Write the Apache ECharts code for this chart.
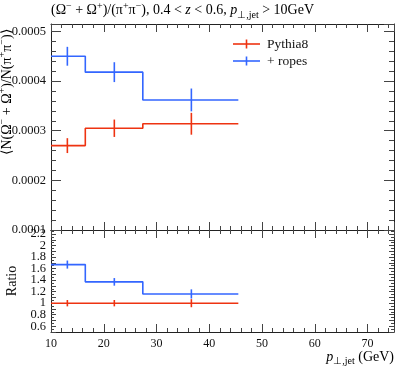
<!DOCTYPE html>
<html><head><meta charset="utf-8">
<script src="https://cdn.jsdelivr.net/npm/echarts@6/dist/echarts.min.js"></script>
<style>html,body{margin:0;padding:0;background:#fff}#c{width:407px;height:367px}</style>
</head><body><div id="c"></div>
<script>
// ---- data ----
const binEdges = [10, 16.5, 27.4, 45.5];
const binCenters = [13.1, 22.0, 36.6];
const pythiaVals = [0.000270, 0.000305, 0.000314];
const pythiaErrs = [0.000015, 0.0000175, 0.000022];
const ropesVals = [0.000450, 0.000418, 0.000362];
const ropesErrs = [0.000019, 0.000020, 0.000023];
const pythiaRatio = [1.0, 1.0, 1.0];
const pythiaRatioErrs = [0.055, 0.055, 0.07];
const ropesRatio = [1.67, 1.37, 1.16];
const ropesRatioErrs = [0.07, 0.066, 0.08];
const xTickLabels = [10, 20, 30, 40, 50, 60, 70];
const mainYTickLabels = [0.0001, 0.0002, 0.0003, 0.0004, 0.0005];
const ratioYTickLabels = [0.6, 0.8, 1, 1.2, 1.4, 1.6, 1.8, 2, 2.2];
const seriesNames = ['Pythia8', '+ ropes'];

const RED = '#EE3311', BLUE = '#3366FF';
const FONT = 'Liberation Serif';
const LW = 1.6;

function stepData(vals) {
  const pts = vals.map((v, i) => [binEdges[i], v]);
  pts.push([binEdges[vals.length], vals[vals.length - 1]]);
  return pts;
}
function errData(vals, errs) {
  return vals.map((v, i) => [binCenters[i], v, errs[i]]);
}
function errRender(params, api) {
  const x = api.value(0), y = api.value(1), e = api.value(2);
  const p1 = api.coord([x, y - e]), p2 = api.coord([x, y + e]);
  return { type: 'line', shape: { x1: p1[0], y1: p1[1], x2: p2[0], y2: p2[1] },
    style: { stroke: api.visual('color'), lineWidth: LW } };
}
function matchTick(list, v, eps) {
  for (const t of list) if (Math.abs(t - v) < eps) return t;
  return null;
}

const axisLine = { show: true, lineStyle: { color: '#222', width: 1 } };
function xAx(grid, pos, showLabel) {
  return {
    type: 'value', gridIndex: grid, position: pos, min: 10, max: 75, interval: 10,
    axisLine, splitLine: { show: false },
    axisTick: { show: true, inside: true, length: 8, lineStyle: { color: '#444' } },
    minorTick: { show: true, splitNumber: 5, length: 4, lineStyle: { color: '#444' } },
    axisLabel: showLabel ? {
      show: true, margin: 6, fontFamily: FONT, fontSize: 12, color: '#111',
      formatter: v => { const t = matchTick(xTickLabels, v, 1e-6); return t === null ? '' : String(t); }
    } : { show: false }
  };
}
function yMain(pos, showLabel) {
  return {
    type: 'value', gridIndex: 0, position: pos, min: 0.0001, max: 0.000515, interval: 0.0001,
    axisLine, splitLine: { show: false },
    axisTick: { show: true, inside: true, length: 10, lineStyle: { color: '#444' } },
    minorTick: { show: true, splitNumber: 5, length: 5, lineStyle: { color: '#444' } },
    axisLabel: showLabel ? {
      show: true, margin: 5, fontFamily: FONT, fontSize: 12.5, color: '#111',
      formatter: v => { const t = matchTick(mainYTickLabels, v, 1e-9); return t === null ? '' : t.toFixed(4); }
    } : { show: false }
  };
}
function yRatio(pos, showLabel) {
  return {
    type: 'value', gridIndex: 1, position: pos, min: 0.5, max: 2.27, interval: 0.1,
    axisLine, splitLine: { show: false },
    axisTick: { show: true, inside: true, length: 5, lineStyle: { color: '#444' } },
    minorTick: { show: true, splitNumber: 2, length: 3, lineStyle: { color: '#444' } },
    axisLabel: showLabel ? {
      show: true, margin: 5, fontFamily: FONT, fontSize: 12.5, color: '#111',
      formatter: v => { const t = matchTick(ratioYTickLabels, v, 1e-6); return t === null ? '' : String(parseFloat(t.toFixed(1))); }
    } : { show: false }
  };
}

const chart = echarts.init(document.getElementById('c'), null, { renderer: 'canvas' });
const richBase = {
  n: { fontFamily: FONT, fontSize: 14, color: '#111', lineHeight: 19 },
  i: { fontFamily: FONT, fontSize: 14, fontStyle: 'italic', color: '#111', lineHeight: 19 },
  sup: { fontFamily: FONT, fontSize: 10, color: '#111', lineHeight: 10, verticalAlign: 'top' },
  sub: { fontFamily: FONT, fontSize: 10, color: '#111', lineHeight: 13, verticalAlign: 'bottom' }
};

chart.setOption({
  animation: false,
  backgroundColor: '#fff',
  grid: [
    { left: 51, top: 24, width: 343, height: 206 },
    { left: 51, top: 230, width: 343, height: 102 }
  ],
  xAxis: [xAx(0, 'bottom', false), xAx(0, 'top', false), xAx(1, 'bottom', true), xAx(1, 'top', false)],
  yAxis: [yMain('left', true), yMain('right', false), yRatio('left', true), yRatio('right', false)],
  series: [
    { name: seriesNames[0], type: 'line', xAxisIndex: 0, yAxisIndex: 0, step: 'end', showSymbol: false,
      data: stepData(pythiaVals), lineStyle: { color: RED, width: LW }, itemStyle: { color: RED } },
    { name: seriesNames[1], type: 'line', xAxisIndex: 0, yAxisIndex: 0, step: 'end', showSymbol: false,
      data: stepData(ropesVals), lineStyle: { color: BLUE, width: LW }, itemStyle: { color: BLUE } },
    { type: 'custom', xAxisIndex: 0, yAxisIndex: 0, renderItem: errRender, encode: { x: 0, y: 1 },
      data: errData(pythiaVals, pythiaErrs), itemStyle: { color: RED } },
    { type: 'custom', xAxisIndex: 0, yAxisIndex: 0, renderItem: errRender, encode: { x: 0, y: 1 },
      data: errData(ropesVals, ropesErrs), itemStyle: { color: BLUE } },
    { type: 'line', xAxisIndex: 2, yAxisIndex: 2, step: 'end', showSymbol: false,
      data: stepData(pythiaRatio), lineStyle: { color: RED, width: LW }, itemStyle: { color: RED } },
    { type: 'line', xAxisIndex: 2, yAxisIndex: 2, step: 'end', showSymbol: false,
      data: stepData(ropesRatio), lineStyle: { color: BLUE, width: LW }, itemStyle: { color: BLUE } },
    { type: 'custom', xAxisIndex: 2, yAxisIndex: 2, renderItem: errRender, encode: { x: 0, y: 1 },
      data: errData(pythiaRatio, pythiaRatioErrs), itemStyle: { color: RED } },
    { type: 'custom', xAxisIndex: 2, yAxisIndex: 2, renderItem: errRender, encode: { x: 0, y: 1 },
      data: errData(ropesRatio, ropesRatioErrs), itemStyle: { color: BLUE } }
  ],
  graphic: [
    { type: 'text', left: 51, top: 1, silent: true,
      style: { text: '{n|(Ω}{sup|−}{n| + Ω}{sup|+}{n|)/(π}{sup|+}{n|π}{sup|−}{n|), 0.4 < }{i|z}{n| < 0.6, }{i|p}{sub|⊥,jet}{n| > 10GeV}',
        rich: richBase } },
    { type: 'text', x: 7, y: 92, rotation: Math.PI / 2, silent: true,
      style: { text: '{n|⟨N(Ω}{sup|−}{n| + Ω}{sup|+}{n|)/N(π}{sup|+}{n|π}{sup|−}{n|)⟩}', rich: richBase,
        align: 'center', verticalAlign: 'middle' } },
    { type: 'text', x: 12, y: 281, rotation: Math.PI / 2, silent: true,
      style: { text: 'Ratio', fontFamily: FONT, fontSize: 14, fill: '#111', align: 'center', verticalAlign: 'middle' } },
    { type: 'text', right: 13, top: 350, silent: true,
      style: { text: '{i|p}{sub|⊥,jet}{n| (GeV)}', rich: richBase } },
    // legend
    { type: 'group', silent: true, children: [
      { type: 'line', shape: { x1: 233, y1: 44, x2: 260, y2: 44 }, style: { stroke: RED, lineWidth: LW } },
      { type: 'line', shape: { x1: 246.5, y1: 39.5, x2: 246.5, y2: 48.5 }, style: { stroke: RED, lineWidth: LW } },
      { type: 'text', x: 267, y: 44, style: { text: seriesNames[0], fontFamily: FONT, fontSize: 13.5, fill: '#111', verticalAlign: 'middle' } },
      { type: 'line', shape: { x1: 233, y1: 61, x2: 260, y2: 61 }, style: { stroke: BLUE, lineWidth: LW } },
      { type: 'line', shape: { x1: 246.5, y1: 56.5, x2: 246.5, y2: 65.5 }, style: { stroke: BLUE, lineWidth: LW } },
      { type: 'text', x: 267, y: 61, style: { text: seriesNames[1], fontFamily: FONT, fontSize: 13.5, fill: '#111', verticalAlign: 'middle' } }
    ] }
  ]
});
</script></body></html>
